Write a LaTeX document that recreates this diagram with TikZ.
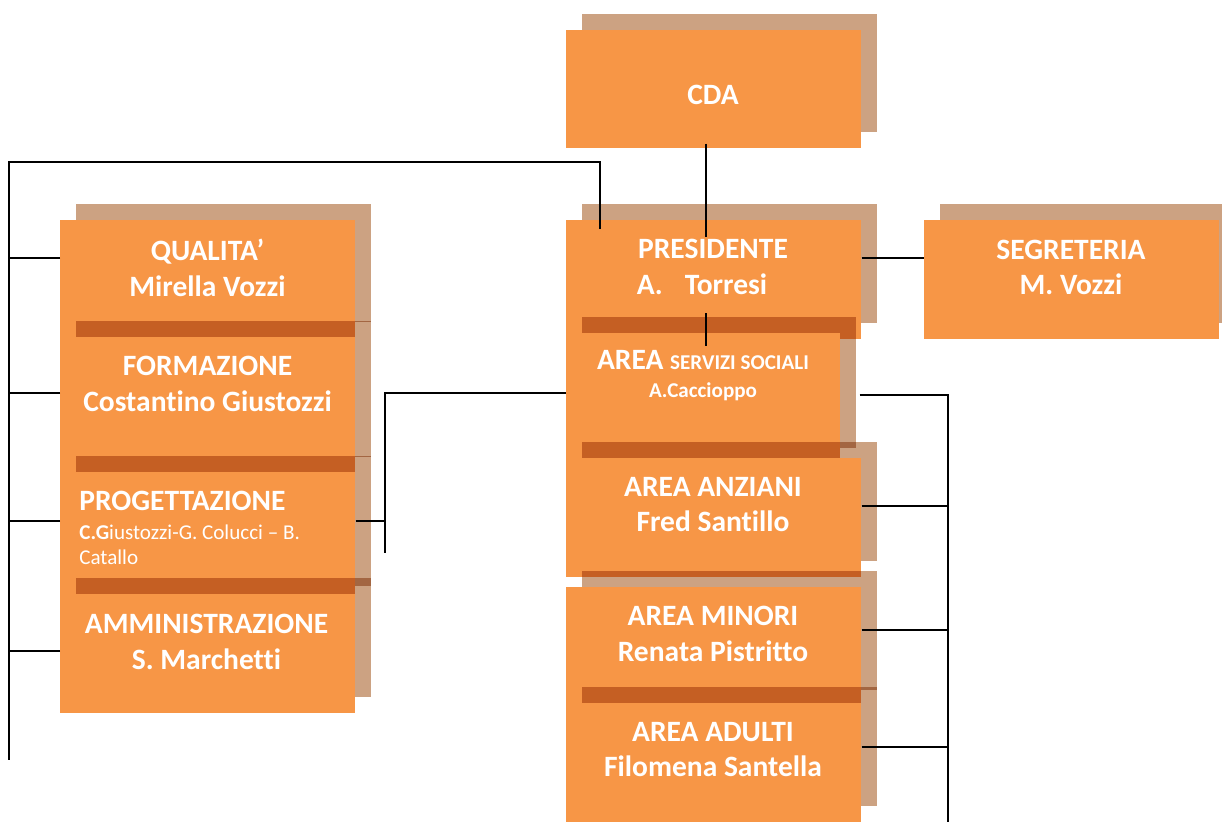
\documentclass[tikz,border=0pt]{standalone}
\usepackage{fontspec}
\setmainfont[Ligatures=NoCommon]{Carlito}
\usetikzlibrary{shadows}

\definecolor{boxorange}{RGB}{247,150,70}
\definecolor{shadetan}{RGB}{204,162,130}

\tikzset{
  box/.style={fill=boxorange, inner sep=0pt, anchor=north west,
    minimum width=5.9cm, minimum height=#1,
    general shadow={fill=shadetan, shadow xshift=0.32cm, shadow yshift=0.32cm, blend mode=multiply}},
  boxtext/.style={text=white, inner sep=0pt, align=center,
    font=\bfseries\fontsize{16.8}{20.4}\selectfont},
  conn/.style={line width=1.1pt}
}

\begin{document}
\begin{tikzpicture}[x=0.02cm, y=-0.02cm]
    \useasboundingbox (0,0) rectangle (1222,821);

    % colonna destra
    \node[box=2.36cm] (cda) at (566,30) {};
    \node[box=2.38cm] (pres) at (566,220) {};
    \node[box=2.38cm] (segr) at (924,220) {};
    \node[box=2.62cm, minimum width=5.48cm] (ss) at (566,333) {};
    \node[box=2.38cm] (anz) at (566,458) {};
    \node[box=2.38cm] (min) at (566,587) {};
    \node[box=2.38cm] (adu) at (566,703) {};

    % colonna sinistra
    \node[box=2.36cm] (qual) at (60,220) {};
    \node[box=2.72cm] (form) at (60,337) {};
    \node[box=2.60cm] (prog) at (60,472) {};
    \node[box=2.38cm] (amm) at (60,594) {};

    % testi
    \node[boxtext] (cdaT) at (713,94.5) {CDA};
    \node[boxtext] (presT) at (713,267) {PRESIDENTE\\A.\kern12.5pt Torresi\kern12.5pt};
    \node[boxtext] (segrT) at (1071,267.5) {SEGRETERIA\\M. Vozzi};
    \node[boxtext] (ssT) at (703,376) {AREA {\fontsize{12}{14}\selectfont SERVIZI SOCIALI}\\[-4.5pt]
      {\fontsize{12}{14}\selectfont A.Caccioppo}};
    \node[boxtext] (anzT) at (713,504.5) {AREA ANZIANI\\Fred Santillo};
    \node[boxtext] (minT) at (713,633.5) {AREA MINORI\\Renata Pistritto};
    \node[boxtext] (aduT) at (713,749.5) {AREA ADULTI\\Filomena Santella};
    \node[boxtext] (qualT) at (207.5,268) {QUALITA’\\Mirella Vozzi};
    \node[boxtext] (formT) at (207.5,384) {FORMAZIONE\\Costantino Giustozzi};
    \node[boxtext, anchor=west, align=left, font=\fontsize{12}{14.2}\selectfont] (progT) at (79,527.5)
      {{\bfseries\fontsize{16.8}{20.4}\selectfont PROGETTAZIONE}\\[2.3pt]
       \textbf{C.G}iustozzi-G. Colucci – B.\\Catallo};
    \node[boxtext] (ammT) at (206.5,641.5) {AMMINISTRAZIONE\\S. Marchetti};

    % collegamenti
    \coordinate (lbus) at (9,162);
    \coordinate (lbus end) at (9,760);
    \coordinate (sbus end) at (385,553);
    \coordinate (rbus end) at (948,822);

    \draw[conn] ([xshift=-0.15cm, yshift=0.1cm]cda.south) -- ([xshift=-0.15cm, yshift=-0.34cm]pres.north);
    \draw[conn] ([xshift=0.06cm, yshift=0.4cm]ss.north) -- ([xshift=0.06cm, yshift=-0.26cm]ss.north);
    \draw[conn] ([yshift=0.43cm]pres.east) -- ([yshift=0.43cm]segr.west);

    \draw[conn] ([shift={(0.68cm,-0.18cm)}]pres.north west) |- (lbus) -- (lbus end);
    \draw[conn] ([yshift=0.42cm]qual.west) coordinate (q) -- (q -| lbus);
    \draw[conn] ([yshift=0.24cm]form.west) coordinate (f) -- (f -| lbus);
    \draw[conn] ([yshift=0.32cm]prog.west) coordinate (p) -- (p -| lbus);
    \draw[conn] ([yshift=0.05cm]amm.west) coordinate (a) -- (a -| lbus);

    \draw[conn] ([yshift=0.11cm]ss.west) -| (sbus end);
    \draw[conn] ([yshift=0.32cm]prog.east) coordinate (pe) -- (pe -| sbus end);

    \draw[conn] ([shift={(0.38cm,0.07cm)}]ss.east) -| (rbus end);
    \draw[conn] ([yshift=0.23cm]anz.east) coordinate (an) -- (an -| rbus end);
    \draw[conn] ([yshift=0.33cm]min.east) coordinate (mi) -- (mi -| rbus end);
    \draw[conn] ([yshift=0.31cm]adu.east) coordinate (ad) -- (ad -| rbus end);
\end{tikzpicture}
\end{document}
